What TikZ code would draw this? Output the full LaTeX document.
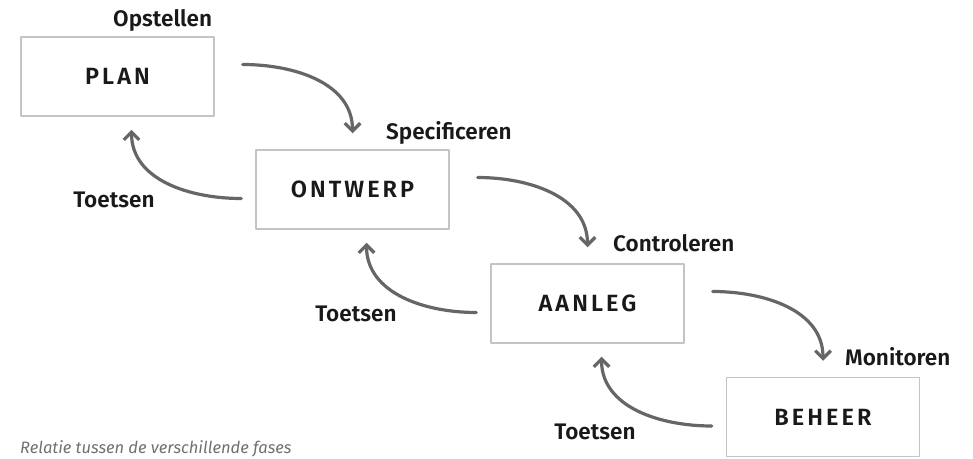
\documentclass[tikz,border=0pt]{standalone}
\usepackage{fontspec}
\setmainfont{Fira Sans}[BoldFont={Fira Sans SemiBold}]
\usetikzlibrary{arrows.meta}
\definecolor{boxgray}{HTML}{C4C4C4}
\definecolor{arrowgray}{HTML}{666666}
\definecolor{captiongray}{HTML}{707070}
\tikzset{
  every picture/.style={line join=round, line cap=round},
  phase/.style={draw=boxgray, line width=1.5pt, minimum width=193pt, minimum height=79pt, inner sep=0pt, text=black!90,
    font=\fontsize{23.5}{28}\selectfont\bfseries\addfontfeature{LetterSpace=13}},
  act/.style={inner sep=0pt, anchor=base, text=black!90, font=\fontsize{22.5}{27}\selectfont\bfseries},
  flow/.style={draw=arrowgray, line width=3.2pt, -{Straight Barb[angle=90:11pt]}},
}

\begin{document}
\begin{tikzpicture}[x=1pt,y=1pt]
\useasboundingbox (0,0) rectangle (973,-458);
% phases
\node[phase] (plan) at (117.5,-76.5) {PLAN};
\node[phase] (ontwerp) at (352.5,-189.5) {ONTWERP};
\node[phase] (aanleg) at (587.5,-303.5) {AANLEG};
\node[phase] (beheer) at (823,-417) {BEHEER};
% activities
\node[act,anchor=base west] (opstellen) at (113,-26) {Opstellen};
\node[act,anchor=base west] (specificeren) at (386,-139) {Specificeren};
\node[act,anchor=base west] (controleren) at (613,-251) {Controleren};
\node[act,anchor=base west] (monitoren) at (845,-365) {Monitoren};
\node[act] (toetsen1) at (114,-207) {Toetsen};
\node[act] (toetsen2) at (356,-321) {Toetsen};
\node[act] (toetsen3) at (595,-439) {Toetsen};
\node[anchor=base west, inner sep=0pt, text=captiongray, font=\fontsize{16.5}{20}\selectfont\itshape] (caption) at (20,-453) {Relatie tussen de verschillende fases};
% forward
\draw[flow] ([shift={(28,12)}]plan.east) to[out=0,in=90] ([yshift=16]ontwerp.north);
\draw[flow] ([shift={(28,12)}]ontwerp.east) to[out=0,in=90] ([yshift=16]aanleg.north);
\draw[flow] ([shift={(28,12)}]aanleg.east) to[out=0,in=90] ([yshift=16]beheer.north);
% back
\draw[flow] ([shift={(-14,-9)}]ontwerp.west) to[out=180,in=-90] ([shift={(14,-13)}]plan.south);
\draw[flow] ([shift={(-14,-9)}]aanleg.west) to[out=180,in=-90] ([shift={(14,-13)}]ontwerp.south);
\draw[flow] ([shift={(-14,-9)}]beheer.west) to[out=180,in=-90] ([shift={(14,-13)}]aanleg.south);
\end{tikzpicture}
\end{document}
